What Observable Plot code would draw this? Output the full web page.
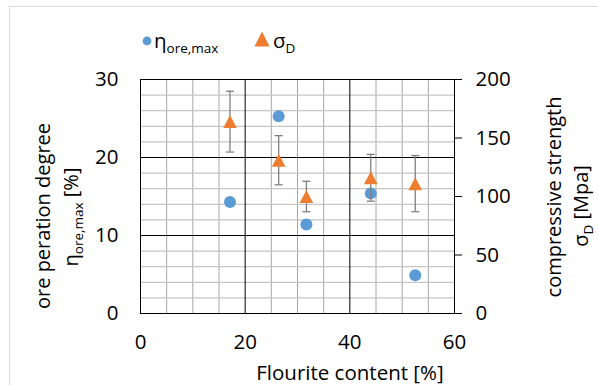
<!DOCTYPE html>
<html><head><meta charset="utf-8">
<script src="https://cdn.jsdelivr.net/npm/d3@7"></script>
<script src="https://cdn.jsdelivr.net/npm/@observablehq/plot@0.6"></script>
<style>
body{margin:0;background:#fff;}
#chart svg{font-family:'Open Sans',sans-serif;}
</style>
</head><body><div id="chart"></div>
<script>
// Data
const fluorite = [17.1, 26.4, 31.7, 44.0, 52.5];          // Flourite content [%]
const eta = [14.3, 25.3, 11.4, 15.4, 4.9];                 // ore peration degree [%]
const sigma = [164, 131, 100, 116, 111];                   // compressive strength [MPa]
const sigmaErr = [26, 21, 13, 20, 24];                     // error bar half-length [MPa]
const xTicks = [0, 20, 40, 60];
const yLeftTicks = [0, 10, 20, 30];
const yRightTicks = [0, 50, 100, 150, 200];
const xMinorGrid = [5, 10, 15, 25, 30, 35, 45, 50, 55];
const xMajorGrid = [20, 40];
const yMinorGrid = [2, 4, 6, 8, 12, 14, 16, 18, 22, 24, 26, 28];
const yMajorGrid = [10, 20];
const leftMax = 30, rightMax = 200;

const k = leftMax / rightMax;
const rows = fluorite.map((x, i) => ({x, eta: eta[i], sigma: sigma[i], err: sigmaErr[i]}));

const FS = 20.5;
const capSymbol = {draw(ctx) { ctx.moveTo(-4, 0); ctx.lineTo(4, 0); }};
const triSymbol = {draw(ctx) { ctx.moveTo(0, -6.5); ctx.lineTo(6.8, 6.5); ctx.lineTo(-6.8, 6.5); ctx.closePath(); }};

const chart = Plot.plot({
  width: 598, height: 385,
  marginLeft: 140, marginRight: 144, marginTop: 79, marginBottom: 72,
  style: {fontFamily: "'Open Sans',sans-serif", fontSize: FS + "px", color: "#000", background: "#fff", overflow: "visible"},
  x: {domain: [0, 60]},
  y: {domain: [0, leftMax]},
  marks: [
    Plot.gridX(xMinorGrid, {stroke: "#a6a6a6", strokeOpacity: 1}),
    Plot.gridY(yMinorGrid, {stroke: "#c6c6c6", strokeOpacity: 1, strokeWidth: 1.2}),
    Plot.gridX(xMajorGrid, {stroke: "#000", strokeOpacity: 1}),
    Plot.gridY(yMajorGrid, {stroke: "#000", strokeOpacity: 1}),
    Plot.frame({stroke: "#000"}),
    Plot.axisY(yLeftTicks, {anchor: "left", tickSize: 0, tickPadding: 22, label: null, fontSize: FS}),
    Plot.axisY(yRightTicks.map(v => v * k), {anchor: "right", tickSize: 7, tickPadding: 14, tickFormat: v => String(Math.round(v / k)), label: null, fontSize: FS}),
    Plot.axisX(xTicks, {anchor: "bottom", tickSize: 0, tickPadding: 21, label: null, fontSize: FS}),
    Plot.dot(rows, {x: "x", y: "eta", r: 6, fill: "#5B9BD5", stroke: "none", symbol: "circle"}),
    Plot.ruleX(rows, {x: "x", y1: d => (d.sigma - d.err) * k, y2: d => (d.sigma + d.err) * k, stroke: "#7f7f7f", strokeWidth: 1.3}),
    Plot.dot(rows, {x: "x", y: d => (d.sigma + d.err) * k, symbol: capSymbol, stroke: "#7f7f7f", fill: "none", strokeWidth: 1.3}),
    Plot.dot(rows, {x: "x", y: d => (d.sigma - d.err) * k, symbol: capSymbol, stroke: "#7f7f7f", fill: "none", strokeWidth: 1.3}),
    Plot.dot(rows, {x: "x", y: d => d.sigma * k, symbol: triSymbol, fill: "#ED7D31", stroke: "none"})
  ]
});
document.getElementById("chart").appendChild(chart);

const svg = d3.select(chart);
// chart area border
svg.insert("rect", ":first-child").attr("x", 9.5).attr("y", 6.5).attr("width", 620).attr("height", 420)
  .attr("fill", "none").attr("stroke", "#d9d9d9");

const F = "'Open Sans',sans-serif";
const SUB = 13.5;
const TS = 20;
function txt(parent, anchor, size) {
  return parent.append("text").attr("font-family", F).attr("font-size", size || FS).attr("fill", "#000")
    .attr("text-anchor", anchor || "start");
}
// Left axis title
txt(svg.append("g").attr("transform", "translate(50,216) rotate(-90)"), "middle", TS).text("ore peration degree");
const lt2 = txt(svg.append("g").attr("transform", "translate(78,217) rotate(-90)"), "middle", TS);
lt2.append("tspan").text("η");
lt2.append("tspan").attr("font-size", SUB).attr("dy", 5).text("ore,max");
lt2.append("tspan").attr("dy", -5).text(" [%]");
// Right axis title
txt(svg.append("g").attr("transform", "translate(561,197) rotate(-90)"), "middle", TS).text("compressive strength");
const rt2 = txt(svg.append("g").attr("transform", "translate(588,206) rotate(-90)"), "middle", TS);
rt2.append("tspan").text("σ");
rt2.append("tspan").attr("font-size", SUB).attr("dy", 5).text("D");
rt2.append("tspan").attr("dy", -5).text(" [Mpa]");
// X axis title
txt(svg, "middle").attr("x", 350).attr("y", 380).text("Flourite content [%]");
// Legend
svg.append("circle").attr("cx", 147).attr("cy", 41).attr("r", 4.4).attr("fill", "#5B9BD5");
const l1 = txt(svg).attr("x", 154).attr("y", 48);
l1.append("tspan").text("η");
l1.append("tspan").attr("font-size", SUB).attr("dy", 5).text("ore,max");
svg.append("path").attr("d", "M262,31.5L269.5,46.5L254.5,46.5Z").attr("fill", "#ED7D31");
const l2 = txt(svg).attr("x", 273).attr("y", 48);
l2.append("tspan").text("σ");
l2.append("tspan").attr("font-size", SUB).attr("dy", 5).text("D");
</script>
</body></html>
